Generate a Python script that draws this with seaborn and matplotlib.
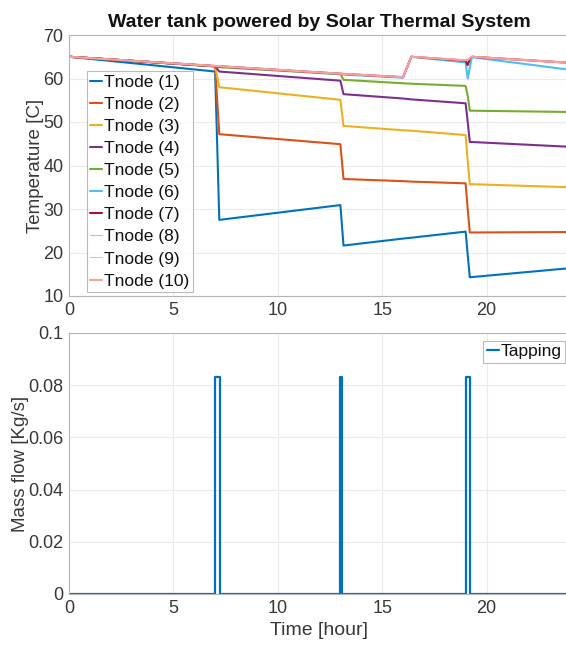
import numpy as np
import pandas as pd
import matplotlib
matplotlib.use("Agg")
import matplotlib.pyplot as plt
import seaborn as sns

# ---- data ----
t_hours = [0, 7.0, 7.2, 13.0, 13.15, 16.0, 16.4, 19.0, 19.1, 19.2, 19.3, 24]
T1 = [65, 61.6, 27.5, 30.9, 21.6, 23.2, 23.4, 24.8, 19.5, 14.3, 14.35, 16.4]
T2 = [65, 62.8, 47.2, 44.9, 36.9, 36.4, 36.3, 35.9, 30.0, 24.6, 24.6, 24.7]
T3 = [65, 62.8, 58.0, 55.1, 49.1, 48.1, 48.0, 47.0, 41.0, 35.7, 35.7, 35.0]
T4 = [65, 62.8, 61.6, 59.5, 56.4, 55.4, 55.2, 54.3, 50.0, 45.4, 45.4, 44.3]
T5 = [65, 62.8, 62.6, 61.0, 59.7, 58.9, 58.8, 58.3, 56.0, 52.6, 52.6, 52.3]
T6 = [65, 62.85, 62.8, 61.0, 60.9, 60.2, 65.0, 63.7, 60.0, 62.5, 64.9, 62.0]
T7 = [65, 62.85, 62.8, 61.1, 61.05, 60.3, 65.0, 64.1, 63.1, 64.5, 65.0, 63.6]
T8 = [65, 62.85, 62.8, 61.1, 61.05, 60.3, 65.0, 64.2, 64.3, 64.6, 65.0, 63.6]
T9 = [65, 62.85, 62.8, 61.1, 61.05, 60.3, 65.0, 64.2, 64.3, 64.6, 65.0, 63.6]
T10 = [65, 62.9, 62.85, 61.1, 61.05, 60.3, 65.0, 64.2, 64.3, 64.6, 65.0, 63.6]
node_labels = [f"Tnode ({i})" for i in range(1, 11)]

tap_t = [0, 7.0, 7.0, 7.25, 7.25, 13.0, 13.0, 13.08, 13.08, 19.0, 19.0, 19.2, 19.2, 24]
tap_flow = [0, 0, 0.0833, 0.0833, 0, 0, 0.0833, 0.0833, 0, 0, 0.0833, 0.0833, 0, 0]

# ---- style ----
sns.set_style("white")
plt.rcParams['font.family'] = ['Liberation Sans', 'DejaVu Sans']

colors = ['#0072BD', '#D95319', '#EDB120', '#7E2F8E', '#77AC30', '#4DBEEE',
          '#A2142F', '#9fc6ea', '#f6b9aa', '#ff9c9c']
widths = [1.5, 1.5, 1.5, 1.5, 1.5, 1.5, 1.5, 0.8, 0.8, 1.5]

series = [T1, T2, T3, T4, T5, T6, T7, T8, T9, T10]

fig = plt.figure(figsize=(5.66, 6.48), dpi=100)
W, H = 566, 648
left = 69 / W
width = (570 - 69) / W
ax1 = fig.add_axes([left, 1 - 296 / H, width, (296 - 35) / H])
ax2 = fig.add_axes([left, 1 - 594 / H, width, (594 - 333) / H])

spine_c = '#b5b5b5'
tick_c = '#383838'
grid_c = '#ebebeb'

for T, lab, c, lw in zip(series, node_labels, colors, widths):
    sns.lineplot(x=t_hours, y=T, ax=ax1, color=c, lw=lw, label=lab)

sns.lineplot(x=tap_t, y=tap_flow, ax=ax2, color='#0072BD', lw=1.6, label='Tapping',
             estimator=None, sort=False)

ax1.set_xlim(0, 24)
ax1.set_ylim(10, 70)
ax1.set_yticks(np.arange(10, 71, 10))
ax1.set_xticks([0, 5, 10, 15, 20])
ax2.set_xlim(0, 24)
ax2.set_ylim(0, 0.1)
ax2.set_yticks([0, 0.02, 0.04, 0.06, 0.08, 0.1])
ax2.set_yticklabels(['0', '0.02', '0.04', '0.06', '0.08', '0.1'])
ax2.set_xticks([0, 5, 10, 15, 20])

for ax in (ax1, ax2):
    ax.grid(True, color=grid_c, lw=0.8)
    ax.set_axisbelow(True)
    for s in ax.spines.values():
        s.set_color(spine_c)
        s.set_linewidth(0.8)
    ax.tick_params(direction='in', length=4, color=spine_c, labelcolor=tick_c,
                   labelsize=13, pad=4)

ax1.set_title('Water tank powered by Solar Thermal System', fontsize=14,
              fontweight='bold', color='#111111', pad=6)
ax1.set_ylabel('Temperature [C]', fontsize=13.5, color=tick_c, labelpad=-0.5)
ax2.set_ylabel('Mass flow [Kg/s]', fontsize=13.5, color=tick_c, labelpad=-0.5)
ax2.set_xlabel('Time [hour]', fontsize=14, color=tick_c, labelpad=4)
ax1.set_xlabel('')

leg1 = ax1.legend(loc='lower left', bbox_to_anchor=(0.035, 0.015), fontsize=12.5,
                  handlelength=0.7, handletextpad=0.1, labelspacing=0.4,
                  borderpad=0.2, borderaxespad=0, frameon=True, fancybox=False)
leg1.get_frame().set_edgecolor('#aaaaaa')
leg1.get_frame().set_linewidth(0.8)
for txt in leg1.get_texts():
    txt.set_color('#111111')

leg2 = ax2.legend(loc='upper right', bbox_to_anchor=(0.99, 0.97), fontsize=12.5,
                  handlelength=0.7, handletextpad=0.1, borderpad=0.2,
                  borderaxespad=0, frameon=True, fancybox=False)
leg2.get_frame().set_edgecolor('#aaaaaa')
leg2.get_frame().set_linewidth(0.8)
for txt in leg2.get_texts():
    txt.set_color('#111111')

fig.savefig('out.png', dpi=100, facecolor='white')
